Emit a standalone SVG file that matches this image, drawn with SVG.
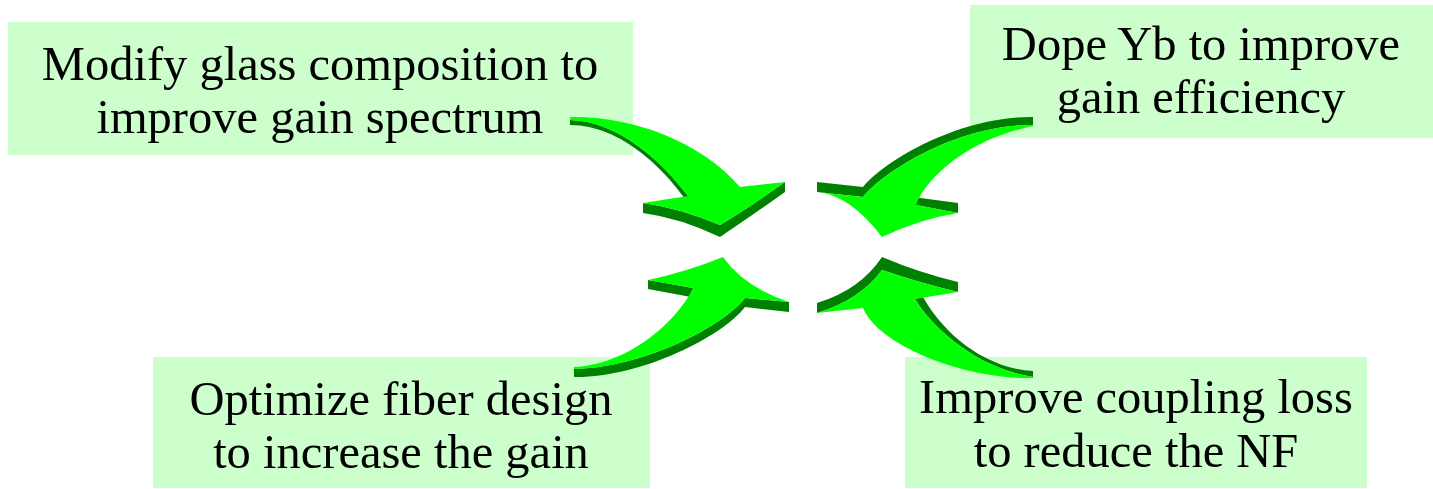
<svg xmlns="http://www.w3.org/2000/svg" width="1433" height="489" viewBox="0 0 1433 489">
<style>
.box{fill:#CCFFCC;stroke:none}
.lbl{font-family:"Liberation Serif","Times New Roman",serif;font-size:48.5px;fill:#000;text-anchor:middle}
.face{fill:#00FF00;stroke:none}
.side{fill:#008000;stroke:none}
</style>
<rect x="0" y="0" width="1433" height="489" fill="#FFFFFF"/>
<g id="node-glass">
<rect class="box" x="8" y="22" width="625" height="133"/>
<text class="lbl" x="320" y="80">Modify glass composition to</text>
<text class="lbl" x="320" y="133">improve gain spectrum</text>
</g>
<g id="node-yb">
<rect class="box" x="970" y="5" width="463" height="133"/>
<text class="lbl" x="1201" y="60">Dope Yb to improve</text>
<text class="lbl" x="1201" y="113">gain efficiency</text>
</g>
<g id="node-fiber">
<rect class="box" x="153" y="357" width="497" height="131"/>
<text class="lbl" x="401" y="415">Optimize fiber design</text>
<text class="lbl" x="401" y="468">to increase the gain</text>
</g>
<g id="node-coupling">
<rect class="box" x="905" y="357" width="462" height="131"/>
<text class="lbl" x="1136" y="413">Improve coupling loss</text>
<text class="lbl" x="1136" y="467">to reduce the NF</text>
</g>
<g id="connectors">
<g id="arrow-tl">
<path class="side" d="M688,196 C665,165 620,121 570,120 L570,125 C622,125 666,171 688,203 Z"/>
<path class="side" d="M643,203 Q680,208 720,225 Q750,207 785,182 L785,192 Q750,217 720,237 Q680,218 643,213 Z"/>
<path class="face" d="M570,117 C630,116 700,140 740,187 L785,182 Q750,207 720,225 Q680,208 643,203 L688,196 C665,165 620,121 570,120 Z"/>
</g>
<g id="arrow-tr">
<path class="side" d="M1033,125 C960,124 885,170 863,197 L817,192 L817,182 L863,187 C885,160 960,116 1033,117 Z"/>
<path class="side" d="M916,205 L958,213 L958,203 L913,197 Z"/>
<path class="face" d="M1033,125 C960,124 885,170 863,197 L817,192 Q850,195 882,237 Q920,219 958,213 L916,205 C925,180 965,140 1033,126 Z"/>
</g>
<g id="arrow-bl">
<path class="side" d="M745,298 C722,328 640,368 574,369 L574,377 C640,378 722,337 745,307 Z"/>
<path class="side" d="M745,298 L789,302 L789,312 L745,307 Z"/>
<path class="side" d="M648,280 L693,288 L691,297 L648,289 Z"/>
<path class="face" d="M574,367 C625,365 675,325 693,288 L648,280 Q686,272 723,257 Q744,287 789,302 L745,298 C722,328 640,368 574,369 Z"/>
</g>
<g id="arrow-br">
<path class="side" d="M817,313 Q860,300 882,270 Q920,283 958,292 L958,282 Q920,273 882,257 Q860,290 817,303 Z"/>
<path class="side" d="M915,299 C930,325 975,368 1033,377 L1033,371 C980,368 940,328 923,297 Z"/>
<path class="face" d="M882,270 Q920,283 958,292 L915,299 C930,325 975,368 1033,377 L1033,378 C970,380 880,348 863,308 L817,313 Q860,300 882,270 Z"/>
</g>
</g>
</svg>
